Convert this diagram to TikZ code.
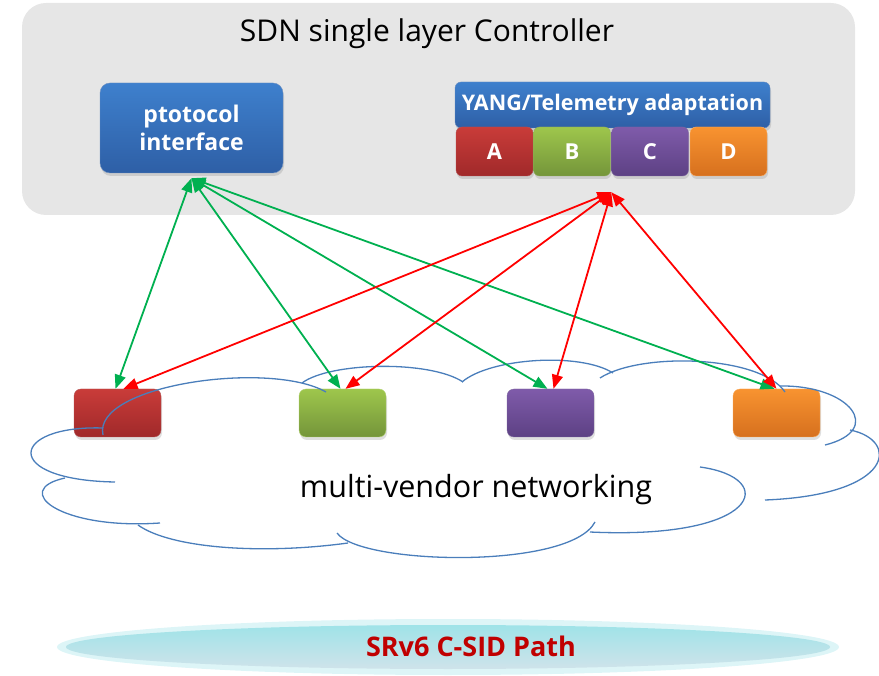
\documentclass[tikz,border=0pt]{standalone}
\usepackage{fontspec}
\setmainfont{Open Sans}
\usepackage{tikz}
\usetikzlibrary{positioning,arrows.meta,shadows}
\definecolor{ctrlgray}{HTML}{E6E6E6}
\definecolor{bluetop}{HTML}{3E80CD}
\definecolor{bluebot}{HTML}{2E5FA6}
\definecolor{redtop}{HTML}{C93C39}
\definecolor{redbot}{HTML}{A0292A}
\definecolor{grntop}{HTML}{9EC64C}
\definecolor{grnbot}{HTML}{74953A}
\definecolor{purtop}{HTML}{7F5BAA}
\definecolor{purbot}{HTML}{5D4184}
\definecolor{orgtop}{HTML}{F89330}
\definecolor{orgbot}{HTML}{D6701E}
\definecolor{arrgreen}{HTML}{00B050}
\definecolor{arrred}{HTML}{FF0000}
\definecolor{cloudblue}{HTML}{4A7EBB}
\definecolor{pathred}{HTML}{C00000}
\definecolor{pathcyan}{HTML}{9FE3E8}
\definecolor{pathpale}{HTML}{CFE3EA}
\tikzset{
  panel/.style  ={rectangle, fill=ctrlgray, rounded corners=24pt},
  blueblk/.style={rectangle, rounded corners=10pt, top color=bluetop, bottom color=bluebot, draw=bluebot!70, text=white, align=center, inner sep=0pt, drop shadow={shadow xshift=1pt, shadow yshift=-3pt, opacity=0.25}},
  tab/.style    ={rectangle, rounded corners=6pt, minimum width=77pt, minimum height=49pt, inner sep=0pt, text=white, font=\bfseries\fontsize{22}{26}\selectfont, drop shadow={shadow xshift=1pt, shadow yshift=-3pt, opacity=0.25}},
  dev/.style    ={rectangle, rounded corners=7pt, minimum width=87pt, minimum height=48pt, inner sep=0pt, drop shadow={shadow xshift=1pt, shadow yshift=-3pt, opacity=0.25}},
  garr/.style   ={{Triangle[length=14pt,width=11pt]}-{Triangle[length=14pt,width=11pt]}, arrgreen, line width=1.8pt},
  rarr/.style   ={{Triangle[length=14pt,width=11pt]}-{Triangle[length=14pt,width=11pt]}, arrred, line width=1.8pt},
  cloudline/.style={draw=cloudblue, line width=1.3pt},
}

\begin{document}
\begin{tikzpicture}[x=1pt, y=-1pt]
  \useasboundingbox (0,0) rectangle (879,676);

  % controller
  \node[panel, minimum width=833pt, minimum height=212pt] (ctrl) at (438.5,109) {};
  \node[font=\fontsize{30}{34}\selectfont] (title) at (427,34) {SDN single layer Controller};
  \node[blueblk, minimum width=183pt, minimum height=90pt, font=\bfseries\fontsize{23}{28}\selectfont] (proto) at (191.5,128) {ptotocol\\interface};
  \node[blueblk, rounded corners=6pt, minimum width=315pt, minimum height=46pt, font=\bfseries\fontsize{21.5}{25}\selectfont] (yang) at (612.5,105) {YANG/Telemetry adaptation};
  \node[tab, top color=redtop, bottom color=redbot, draw=redbot!80] (tabA) at (494.5,151.5) {A};
  \node[tab, top color=grntop, bottom color=grnbot, draw=grnbot!80] (tabB) at (572,151.5) {B};
  \node[tab, top color=purtop, bottom color=purbot, draw=purbot!80] (tabC) at (650,151.5) {C};
  \node[tab, top color=orgtop, bottom color=orgbot, draw=orgtop!70] (tabD) at (728.5,151.5) {D};

  % devices
  \node[dev, top color=redtop, bottom color=redbot, draw=redbot!80] (rdev) at (117.5,413) {};
  \node[dev, top color=grntop, bottom color=grnbot, draw=grntop!80] (gdev) at (342.5,413) {};
  \node[dev, top color=purtop, bottom color=purbot, draw=purbot!80] (pdev) at (550.5,413) {};
  \node[dev, top color=orgtop, bottom color=orgbot, draw=orgtop!80] (odev) at (776.5,413) {};

  % cloud, drawn lobe by lobe
  \draw[cloudline] (103,435) .. controls (92,385) and (270,360) .. (326,392);
  \draw[cloudline] (302,383) .. controls (330,362) and (430,360) .. (463,382);
  \draw[cloudline] (462,382) .. controls (490,358) and (580,352) .. (613,373);
  \draw[cloudline] (600,378) .. controls (640,352) and (760,355) .. (785,392);
  \draw[cloudline] (780,386) .. controls (850,385) and (885,430) .. (825,445);
  \draw[cloudline] (850,430) .. controls (900,440) and (895,495) .. (765,500);
  \draw[cloudline] (700,467) .. controls (780,478) and (760,540) .. (590,532);
  \draw[cloudline] (595,522) .. controls (570,570) and (360,565) .. (337,533);
  \draw[cloudline] (348,543) .. controls (260,555) and (170,548) .. (138,525);
  \draw[cloudline] (160,523) .. controls (60,530) and (10,490) .. (65,478);
  \draw[cloudline] (115,482) .. controls (0,480) and (10,425) .. (103,428);
  \node[font=\fontsize{30.5}{35}\selectfont] (net) at (476,490) {multi-vendor networking};

  % hubs under the two blocks
  \coordinate (phub) at ([yshift=-5pt]proto.south);
  \coordinate (yhub) at ([yshift=-16pt]tabC.south west);

  % protocol links
  \draw[garr] (phub) -- ([xshift=-2pt]rdev.north);
  \draw[garr] (phub) -- ([xshift=-2pt]gdev.north);
  \draw[garr] (phub) -- ([xshift=-3pt]pdev.north);
  \draw[garr] (phub) -- ([xshift=-2pt]odev.north);

  % telemetry links
  \draw[rarr] (yhub) -- ([xshift=6pt]rdev.north);
  \draw[rarr] (yhub) -- ([xshift=3pt]gdev.north);
  \draw[rarr] (yhub) -- ([xshift=3pt]pdev.north);
  \draw[rarr] (yhub) -- ([xshift=0pt]odev.north);

  % path
  \fill[pathcyan!35] (448,647) ellipse [x radius=391pt, y radius=28pt];
  \shade[top color=pathcyan, bottom color=pathpale] (448,647) ellipse [x radius=382pt, y radius=22pt];
  \node[text=pathred, font=\bfseries\fontsize{27}{31}\selectfont] (path) at (471,646) {SRv6 C-SID Path};
\end{tikzpicture}
\end{document}
